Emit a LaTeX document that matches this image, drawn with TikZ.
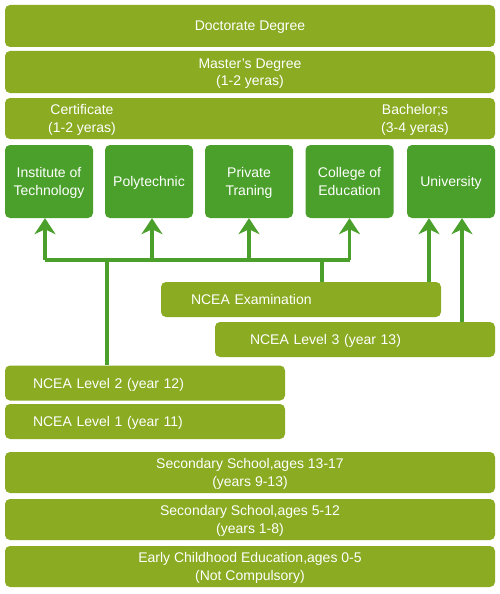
\documentclass[tikz,border=0pt]{standalone}
\usepackage{fontspec}
\setmainfont{Liberation Sans}
\usetikzlibrary{arrows.meta}

\definecolor{olivebar}{RGB}{138,171,34}
\definecolor{techgreen}{RGB}{74,160,42}

\tikzset{
  levelbox/.style={fill=olivebar, rounded corners=5pt, text=white, inner sep=0pt,
    align=center, text depth=0pt, font=\fontsize{14}{17.5}\selectfont},
  widebox/.style={levelbox, minimum width=490, minimum height=42},
  nceabox/.style={levelbox, minimum width=280, minimum height=35, inner xsep=30pt,
    text width=220pt, align=left},
  instbox/.style={levelbox, fill=techgreen, minimum width=88, minimum height=73},
  link/.style={draw=techgreen, line width=3.5pt},
  uplink/.style={link, -{Stealth[length=16pt,width=21pt,inset=5pt]}}
}

\begin{document}
\begin{tikzpicture}[x=1pt,y=-1pt]
        \useasboundingbox (0,0) rectangle (500,594);

        % tertiary levels
        \node[widebox] (doct) at (250,26) {Doctorate Degree};
        \node[widebox] (mast) at (250,72) {Master's Degree\\(1-2 yeras)};
        \node[widebox, minimum height=41] (qual) at (250,118.5) {};
        \node[text=white, align=center, text depth=0pt, font=\fontsize{14}{17.5}\selectfont] (cert) at (82,118.5) {Certificate\\(1-2 yeras)};
        \node[text=white, align=center, text depth=0pt, font=\fontsize{14}{17.5}\selectfont] (bach) at (415,118.5) {Bachelor;s\\(3-4 yeras)};

        % institutions
        \node[instbox] (inst) at (49,181.5) {Institute of\\Technology};
        \node[instbox] (poly) at (149,181.5) {Polytechnic};
        \node[instbox] (priv) at (249,181.5) {Private\\Traning};
        \node[instbox] (coll) at (349.5,181.5) {College of\\Education};
        \node[instbox] (univ) at (451,181.5) {University};

        % NCEA levels
        \node[nceabox] (exam) at (301,299.5) {NCEA Examination};
        \node[nceabox, inner xsep=35pt, text width=210pt] (lvl3) at (355,339.5) {NCEA Level 3 (year 13)};
        \node[nceabox, inner xsep=28pt, text width=224pt] (lvl2) at (145,383) {NCEA Level 2 (year 12)};
        \node[nceabox, inner xsep=28pt, text width=224pt] (lvl1) at (145,421.5) {NCEA Level 1 (year 11)};

        % schools
        \node[widebox, minimum height=41] (sec) at (250,472.5) {Secondary School,ages 13-17\\(years 9-13)};
        \node[widebox, minimum height=41] (prim) at (250,519.5) {Secondary School,ages 5-12\\(years 1-8)};
        \node[widebox, minimum height=41] (early) at (250,566.5) {Early Childhood Education,ages 0-5\\(Not Compulsory)};

        % connectors
        \coordinate (bus) at (0,260);
        \draw[link] ([xshift=-4pt]inst.south |- bus) -- (coll.south |- bus);
        \draw[uplink] ([xshift=-4pt]inst.south |- bus) -- ([xshift=-4pt]inst.south);
        \draw[uplink] ([xshift=3pt]poly.south |- bus) -- ([xshift=3pt]poly.south);
        \draw[uplink] (priv.south |- bus) -- (priv.south);
        \draw[uplink] (coll.south |- bus) -- (coll.south);
        \draw[link] ([xshift=102pt]lvl2.north west) -- ([xshift=102pt]lvl2.north west |- bus);
        \draw[link] ([xshift=161pt]exam.north west) -- ([xshift=161pt]exam.north west |- bus);
        \draw[uplink] ([xshift=-22pt]univ.south |- exam.north) -- ([xshift=-22pt]univ.south);
        \draw[uplink] ([xshift=11pt]univ.south |- lvl3.north) -- ([xshift=11pt]univ.south);
    \end{tikzpicture}
\end{document}
